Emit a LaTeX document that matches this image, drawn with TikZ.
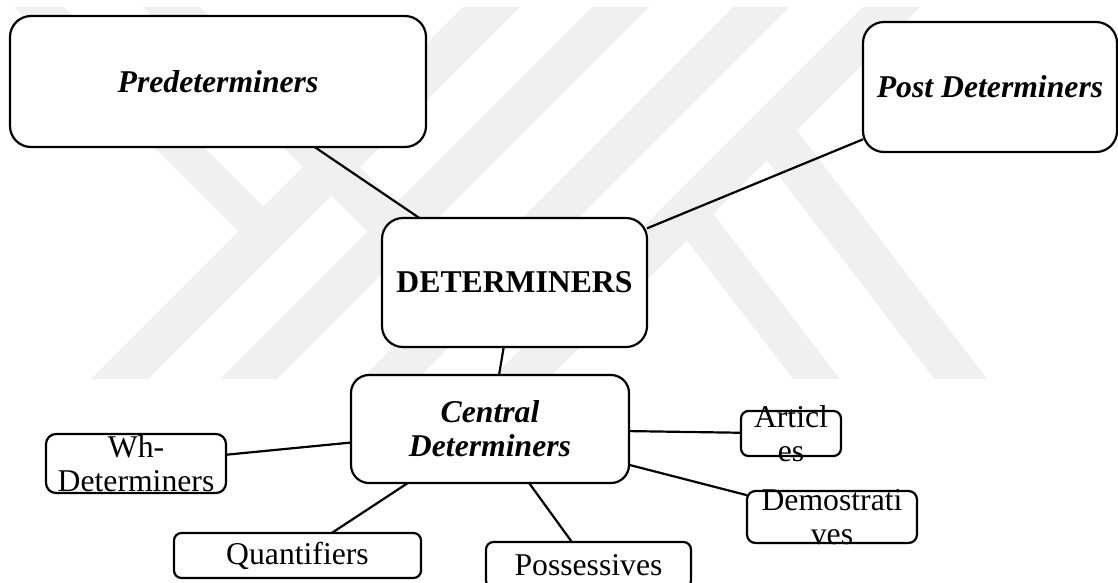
\documentclass[tikz,border=0pt]{standalone}
\usepackage{fontspec}
\setmainfont{Liberation Serif}
\begin{document}
\begin{tikzpicture}[x=1pt,y=-1pt,
  box/.style={draw=black, line width=2.2pt, fill=white, inner sep=0pt, outer sep=0pt, rectangle},
  conn/.style={draw=black, line width=2.2pt},
  lbl/.style={inner sep=0pt, align=center, font=\fontsize{31.7}{34}\selectfont},
  lbi/.style={lbl, font=\fontsize{31.7}{34}\selectfont\bfseries\itshape},
  lbb/.style={lbl, font=\fontsize{31.7}{34}\selectfont\bfseries},
  wm/.style={fill=black!6}]
\useasboundingbox (0,0) rectangle (1118,582);
% watermark
\fill[wm] (463,7) -- (520,7) -- (148,379) -- (91,379) -- cycle;
\fill[wm] (592,7) -- (649,7) -- (277,379) -- (220,379) -- cycle;
\fill[wm] (733,7) -- (789,7) -- (417,379) -- (361,379) -- cycle;
\fill[wm] (863,7) -- (920,7) -- (548,379) -- (491,379) -- cycle;
\fill[wm] (14,7) -- (64,7) -- (274,217) -- (248.5,241.5) -- cycle;
\fill[wm] (143,7) -- (200,7) -- (406,213) -- (377.5,241.5) -- cycle;
\fill[wm] (679,230) -- (705,203) -- (840,379) -- (793,379) -- cycle;
\fill[wm] (759,150) -- (789,120) -- (987,379) -- (934.5,379) -- cycle;
% boxes
\node[box, rounded corners=21pt, minimum width=416pt, minimum height=131pt] (pre) at (218,81.5) {};
\node[box, rounded corners=21pt, minimum width=254pt, minimum height=130pt] (post) at (990,87) {};
\node[box, rounded corners=21pt, minimum width=265pt, minimum height=129pt] (det) at (514.5,282.5) {};
\node[box, rounded corners=18pt, minimum width=278pt, minimum height=108pt] (cen) at (490,429) {};
\node[box, rounded corners=10pt, minimum width=180pt, minimum height=59pt] (wh) at (136,463.5) {};
\node[box, rounded corners=7.5pt, minimum width=100pt, minimum height=45pt] (art) at (791,433.5) {};
\node[box, rounded corners=8.5pt, minimum width=170pt, minimum height=52pt] (dem) at (832,517) {};
\node[box, rounded corners=7.5pt, minimum width=247pt, minimum height=45pt] (qua) at (297.5,555.5) {};
\node[box, rounded corners=7.5pt, minimum width=205pt, minimum height=46pt] (pos) at (588.5,565) {};
% connectors
\draw[conn] (pre) -- (det);
\draw[conn] (post) -- (det);
\draw[conn] (det) -- (cen);
\draw[conn] (cen) -- (wh);
\draw[conn] (cen) -- (art);
\draw[conn] (cen) -- (dem);
\draw[conn] (cen) -- (qua);
\draw[conn] (cen) -- (pos);
% texts
\node[lbi] (pre-t) at (pre.center) {Predeterminers};
\node[lbi] (post-t) at (post.center) {Post Determiners};
\node[lbb] (det-t) at (det.center) {DETERMINERS};
\node[lbi] (cen-t) at (cen.center) {Central\\Determiners};
\node[lbl] (wh-t) at (wh.center) {Wh-\\Determiners};
\node[lbl] (art-t) at (art.center) {Articl\\es};
\node[lbl] (dem-t) at (dem.center) {Demostrati\\ves};
\node[lbl] (qua-t) at (qua.center) {Quantifiers};
\node[lbl] (pos-t) at (pos.center) {Possessives};
\end{tikzpicture}
\end{document}
